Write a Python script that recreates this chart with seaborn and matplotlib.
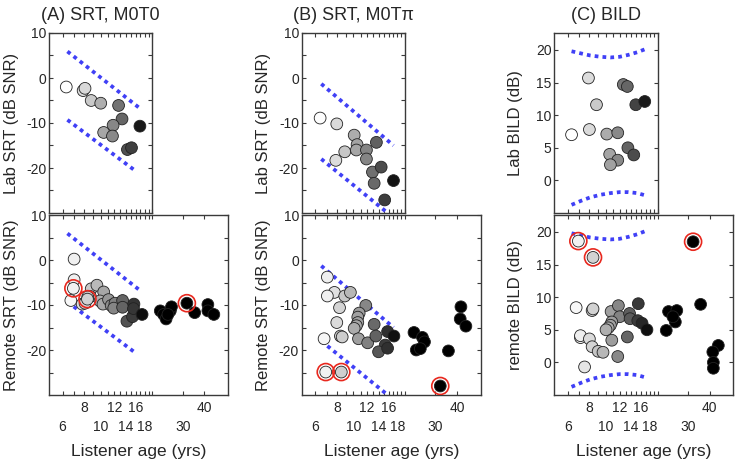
import matplotlib
matplotlib.use("Agg")
import matplotlib.pyplot as plt
import matplotlib.colors as mcolors
import matplotlib.transforms as mtransforms
from matplotlib.ticker import FixedLocator, NullFormatter
import seaborn as sns

# ---------------- data ----------------
# (A) SRT, M0T0 -- lab listeners
a_lab_age = [6.3, 7.9, 8.1, 8.8, 10.0, 12.7, 13.3, 11.8, 10.4, 11.7, 14.3, 15.1, 16.9]
a_lab_srt = [-2.0, -2.8, -2.3, -5.0, -5.6, -6.1, -9.1, -10.5, -12.1, -12.9, -15.9, -15.5, -10.7]
# (A) remote listeners
a_rem_age = [7.0, 7.0, 6.7, 7.8, 8.1, 8.8, 9.5, 8.7, 8.4, 10.4, 9.9, 10.3, 11.1, 11.5,
             12.1, 11.9, 13.4, 13.4, 14.2, 15.3, 15.6, 15.5, 17.4,
             22.2, 23.2, 24.0, 25.4, 25.8, 24.6, 35.2, 42.0, 42.0, 45.5]
a_rem_srt = [0.2, -4.4, -9.0, -9.8, -9.6, -6.4, -5.6, -8.1, -8.2, -7.1, -9.1, -9.8, -8.8, -10.1,
             -9.6, -10.7, -9.0, -10.5, -13.6, -12.6, -9.8, -10.8, -12.1,
             -11.3, -12.1, -13.1, -11.3, -10.4, -12.1, -11.7, -9.9, -11.3, -12.1]
a_out_age = [6.93, 8.37, 31.7]
a_out_srt = [-6.3, -8.7, -9.6]
a_hi_age, a_hi_srt = [6.4, 17.1], [5.9, -6.9]
a_lo_age, a_lo_srt = [6.4, 16.0], [-9.3, -20.7]

# (B) SRT, M0Tpi -- lab listeners
b_lab_age = [6.4, 8.0, 10.1, 10.5, 8.9, 7.9, 10.4, 11.9, 11.9, 13.6, 12.9, 14.5, 13.2, 17.1, 15.2]
b_lab_srt = [-8.9, -10.2, -12.7, -14.8, -16.4, -18.3, -16.0, -16.0, -18.0, -14.3, -20.9,
             -19.8, -23.4, -22.8, -27.1]
# (B) remote listeners
b_rem_age = [7.05, 7.75, 7.05, 8.9, 9.6, 8.3, 8.0, 8.4, 8.6, 6.75, 11.8, 10.8, 10.6, 10.6,
             10.4, 10.1, 10.7, 12.1, 13.2, 13.5, 15.3, 14.0, 15.8, 17.2, 15.8,
             22.5, 25.2, 25.9, 23.2, 24.5, 35.7, 42.2, 41.8, 45.1]
b_rem_srt = [-3.8, -7.2, -8.0, -8.0, -7.2, -10.6, -13.9, -16.9, -17.1, -17.5, -10.1, -11.8,
             -12.7, -13.9, -14.6, -15.2, -17.5, -18.4, -14.3, -16.9, -18.9, -20.4, -15.9,
             -16.9, -19.6,
             -16.1, -17.2, -18.2, -20.0, -19.7, -20.2, -10.4, -13.1, -14.7]
b_out_age = [6.9, 8.5, 32.0]
b_out_srt = [-24.9, -24.9, -28.0]
b_hi_age, b_hi_srt = [6.5, 17.1], [-1.3, -15.0]
b_lo_age, b_lo_srt = [6.5, 15.6], [-18.0, -29.8]

# (C) BILD -- lab listeners
c_lab_age = [6.3, 7.9, 8.0, 8.8, 10.1, 11.7, 10.5, 11.7, 10.6, 12.6, 13.3, 14.9, 16.8, 13.4, 14.5]
c_lab_bild = [7.0, 15.7, 7.8, 11.6, 7.1, 7.3, 4.0, 3.1, 2.4, 14.7, 14.4, 11.6, 12.1, 5.0, 3.9]
# (C) remote listeners
c_rem_age = [6.7, 8.3, 8.4, 7.1, 7.1, 8.0, 8.3, 9.0, 9.6, 7.5, 10.7, 11.8, 12.0, 10.8, 10.6,
             10.3, 10.0, 10.8, 11.7, 13.3, 13.7, 13.8, 15.3, 16.2, 15.4, 17.3,
             23.1, 25.8, 25.3, 22.4, 24.5, 35.5, 45.0, 41.8, 42.1, 42.1]
c_rem_bild = [8.4, 7.95, 8.2, 3.8, 4.1, 3.6, 2.4, 1.7, 1.55, -0.7, 7.8, 8.7, 7.0, 6.2, 5.7,
              5.3, 5.0, 3.4, 0.9, 3.9, 7.5, 6.7, 6.4, 6.0, 9.0, 5.0,
              7.8, 7.95, 6.2, 4.9, 7.0, 8.9, 2.6, 1.6, 0.0, -0.9]
c_out_age = [6.9, 8.4, 32.1]
c_out_bild = [18.6, 16.1, 18.5]
c_curve_age = [6.3, 7.2, 8.1, 9.3, 10.6, 12.0, 13.5, 15.2, 17.2]
c_hi_bild = [19.8, 19.45, 19.15, 18.95, 18.85, 18.95, 19.25, 19.65, 20.2]
c_lo_bild = [-3.75, -3.1, -2.6, -2.2, -1.95, -1.8, -1.8, -1.95, -2.35]

titles = ["(A) SRT, M0T0", "(B) SRT, M0T\u03c0", "(C) BILD"]
lab_ylabels = ["Lab SRT (dB SNR)", "Lab SRT (dB SNR)", "Lab BILD (dB)"]
rem_ylabels = ["Remote SRT (dB SNR)", "Remote SRT (dB SNR)", "remote BILD (dB)"]
xlabel = "Listener age (yrs)"
# staggered age labels: upper row on major ticks, lower row on some minor ticks
upper_x = [8, 12, 16, 40]
upper_x_labels = ["8", "12", "16", "40"]
lower_x = [6, 7, 9, 10, 11, 13, 14, 15, 17, 18, 19, 20, 30]
lower_x_labels = ["6", "", "", "10", "", "", "14", "", "", "18", "", "", "30"]

# ---------------- style ----------------
sns.set_style("ticks")
plt.rcParams["font.family"] = ["Liberation Sans", "DejaVu Sans"]
plt.rcParams["axes.edgecolor"] = "#3a3a3a"
plt.rcParams["axes.linewidth"] = 1.0
plt.rcParams["axes.unicode_minus"] = False

BLUE = "#4040f6"
shade_norm = mcolors.Normalize(vmin=6.3, vmax=18.0, clip=True)

fig = plt.figure(figsize=(7.36, 4.65), dpi=100)
lefts = [49 / 736, 301.7 / 736, 554.3 / 736]
wide = 179 / 736
narrow = wide * 0.5781  # log(20/5) / log(55/5)
hgt = 180 / 465
ylab_x = [19 / 736, 271 / 736, 523 / 736]


def style_axis(ax, ylim, yticks, yminor, top_row):
    ax.set_xscale("log")
    ax.set_xlim(5, 20 if top_row else 55)
    ax.set_ylim(*ylim)
    if top_row:
        ax.xaxis.set_major_locator(FixedLocator(upper_x))
        ax.xaxis.set_minor_locator(FixedLocator(lower_x))
        ax.xaxis.set_major_formatter(NullFormatter())
        ax.xaxis.set_minor_formatter(NullFormatter())
    else:
        ax.set_xticks(upper_x, labels=upper_x_labels)
        ax.set_xticks(lower_x, labels=lower_x_labels, minor=True)
    ax.set_yticks(yticks)
    ax.yaxis.set_minor_locator(FixedLocator(yminor))
    ax.tick_params(which="both", direction="in", top=True, right=True,
                   length=3, width=0.8, color="#3a3a3a", labelsize=10)
    ax.tick_params(axis="y", pad=2)
    ax.tick_params(axis="x", which="major", pad=4)
    ax.tick_params(axis="x", which="minor", pad=18)
    for s in ax.spines.values():
        s.set_visible(True)


def draw_points(ax, ages, vals, out_age, out_val):
    all_age = list(ages) + list(out_age)
    all_val = list(vals) + list(out_val)
    sns.scatterplot(x=all_age, y=all_val, hue=all_age, palette="gray_r",
                    hue_norm=shade_norm, legend=False, s=72,
                    edgecolor="#222222", linewidth=0.6, ax=ax, zorder=3)
    if out_age:
        ax.scatter(out_age, out_val, s=150, facecolors="none",
                   edgecolors="#e8281e", linewidths=1.2, zorder=4)


def draw_dotted(ax, xs, ys):
    ax.plot(xs, ys, color=BLUE, lw=2.7, linestyle=(0, (1, 1.1)),
            solid_capstyle="butt", zorder=2)


panels = [
    dict(lab=(a_lab_age, a_lab_srt), rem=(a_rem_age, a_rem_srt), out=(a_out_age, a_out_srt),
         lines=[(a_hi_age, a_hi_srt), (a_lo_age, a_lo_srt)],
         ylim=(-30, 10), yticks=[-20, -10, 0, 10], yminor=[-25, -15, -5, 5]),
    dict(lab=(b_lab_age, b_lab_srt), rem=(b_rem_age, b_rem_srt), out=(b_out_age, b_out_srt),
         lines=[(b_hi_age, b_hi_srt), (b_lo_age, b_lo_srt)],
         ylim=(-30, 10), yticks=[-20, -10, 0, 10], yminor=[-25, -15, -5, 5]),
    dict(lab=(c_lab_age, c_lab_bild), rem=(c_rem_age, c_rem_bild), out=(c_out_age, c_out_bild),
         lines=[(c_curve_age, c_hi_bild), (c_curve_age, c_lo_bild)],
         ylim=(-5, 22.6), yticks=[0, 5, 10, 15, 20], yminor=[]),
]

for i, p in enumerate(panels):
    ax_top = fig.add_axes([lefts[i], 1 - 213 / 465, narrow, hgt])
    ax_bot = fig.add_axes([lefts[i], 1 - 395 / 465, wide, hgt])

    for xs, ys in p["lines"]:
        draw_dotted(ax_top, xs, ys)
        draw_dotted(ax_bot, xs, ys)

    draw_points(ax_top, p["lab"][0], p["lab"][1], [], [])
    draw_points(ax_bot, p["rem"][0], p["rem"][1], p["out"][0], p["out"][1])

    style_axis(ax_top, p["ylim"], p["yticks"], p["yminor"], True)
    style_axis(ax_bot, p["ylim"], p["yticks"], p["yminor"], False)

    ax_top.set_title(titles[i], fontsize=13, pad=9)
    ax_top.set_ylabel(lab_ylabels[i], fontsize=12)
    ax_bot.set_ylabel(rem_ylabels[i], fontsize=12)
    ax_top.set_xlabel("")
    ax_bot.set_xlabel(xlabel, fontsize=12.5)
    for ax in (ax_top, ax_bot):
        tr = mtransforms.blended_transform_factory(fig.transFigure, ax.transAxes)
        ax.yaxis.set_label_coords(ylab_x[i], 0.5, transform=tr)
    ax_bot.xaxis.set_label_coords(0.5, -0.27)

fig.savefig("out.png", dpi=100)
